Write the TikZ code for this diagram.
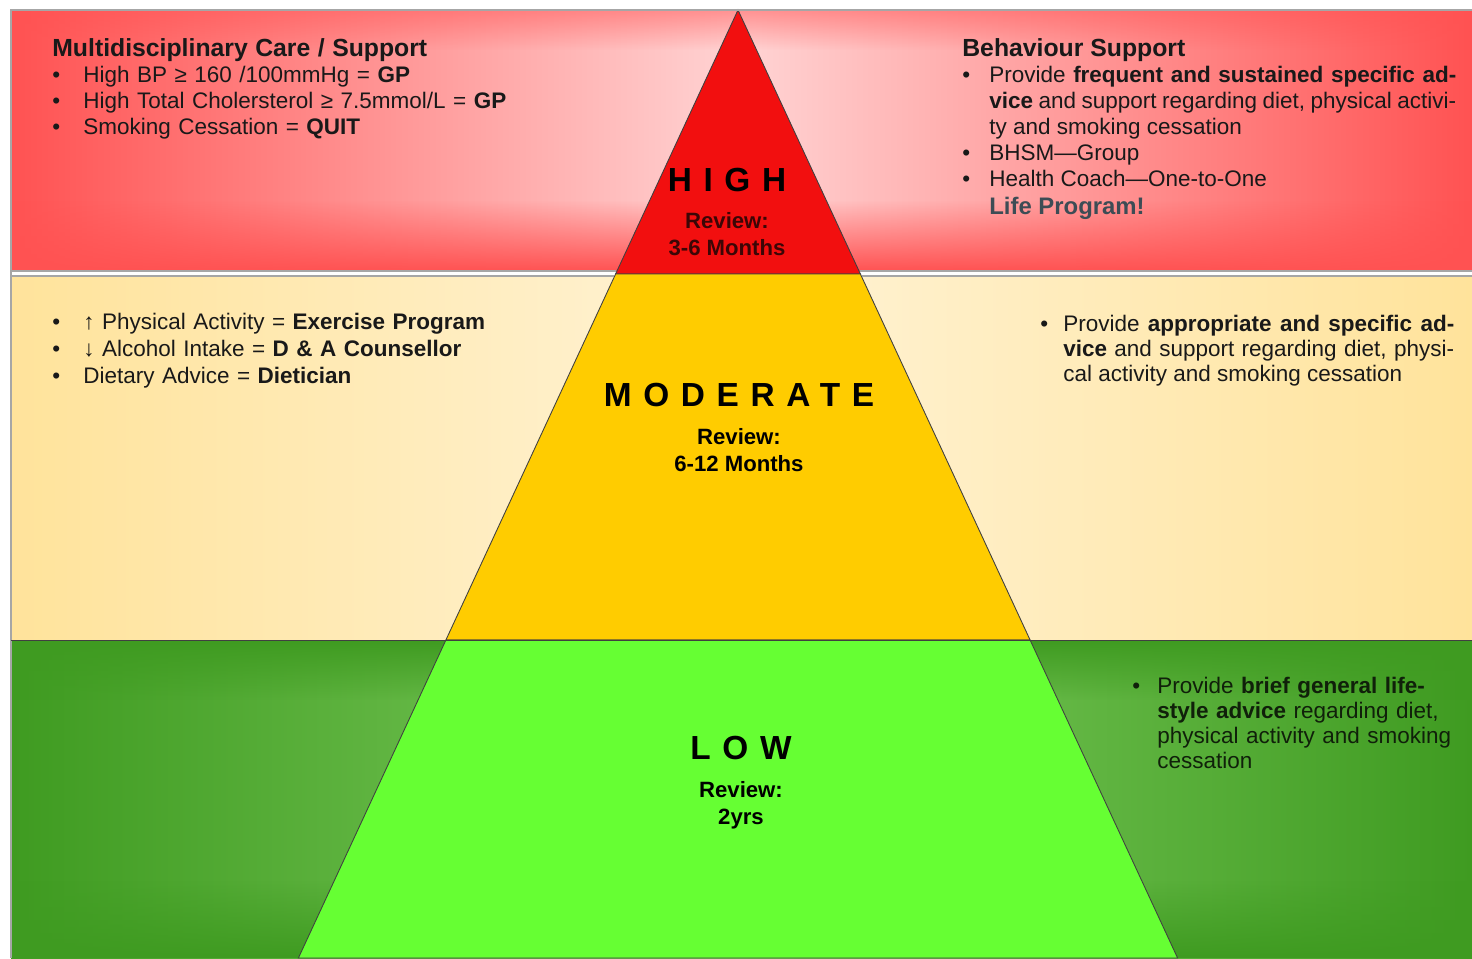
\documentclass[tikz,border=0pt]{standalone}
\usepackage{fontspec}
\setmainfont{Liberation Sans}
\newfontfamily\widefont[LetterSpace=35]{Liberation Sans}
\usetikzlibrary{positioning, fadings}
\definecolor{hiband}{HTML}{FF5252}
\definecolor{higlow}{HTML}{FFD4D4}
\definecolor{hitier}{HTML}{F20F0F}
\definecolor{hidark}{HTML}{3C0606}
\definecolor{modband}{HTML}{FFE39B}
\definecolor{modglow}{HTML}{FFF3D6}
\definecolor{modtier}{HTML}{FFCC00}
\definecolor{lowband}{HTML}{3F9B21}
\definecolor{lowglow}{HTML}{7ECC5E}
\definecolor{lowtier}{HTML}{66FF33}
\definecolor{lowtext}{HTML}{10200A}
\definecolor{slate}{HTML}{3D4C55}
% bullet with a hanging indent; items are separated by \par
\newcommand{\bitem}[1][6.2mm]{\noindent\hangindent=#1\hangafter=1\makebox[#1][l]{\textbullet}\ignorespaces}
\tikzset{
  edge/.style={draw=gray!70, line width=0.6pt},
  tier/.style={draw=black!75, line width=0.5pt},
  level/.style={font=\widefont\bfseries\fontsize{19}{22}\selectfont, inner sep=0pt},
  review/.style={font=\bfseries\fontsize{12.6}{15.3}\selectfont, align=center, inner sep=0pt},
  notes/.style={anchor=north west, inner sep=0pt, font=\fontsize{12.8}{14.8}\selectfont, align=justify, text=black!90},
}

\begin{document}
\begin{tikzpicture}[x=0.02cm, y=-0.02cm]
\fill[white] (0,0) rectangle (1472,958);
\useasboundingbox (0,0) rectangle (1472,958);

% colour bands behind the pyramid
\fill[left color=hiband, right color=hiband, middle color=higlow] (11,10) rectangle (1472,271);
\fill[hiband, path fading=north] (11,200) rectangle (1472,271);
\fill[hiband, path fading=south, fill opacity=0.5] (11,10) rectangle (1472,50);
\fill[left color=modband, right color=modband, middle color=modglow] (11,276) rectangle (1472,640);
\fill[left color=lowband, right color=lowband, middle color=lowglow] (11,640) rectangle (1472,958);
\fill[lowband, path fading=south] (11,640) rectangle (1472,700);
\fill[lowband, path fading=north] (11,880) rectangle (1472,958);

% pyramid tiers
\filldraw[tier, fill=hitier] (738,10) -- (860.4,274) -- (615.6,274) -- cycle;
\filldraw[tier, fill=modtier] (615.6,274) -- (860.4,274) -- (1030.1,640) -- (445.9,640) -- cycle;
\filldraw[tier, fill=lowtier] (445.9,640) -- (1030.1,640) -- (1177.6,958) -- (298.4,958) -- cycle;

% band borders
\draw[edge] (11,958) -- (11,10) -- (1472,10);
\draw[edge] (11,271) -- (615.6,271) (860.4,271) -- (1472,271);
\draw[edge] (11,276) -- (614,276) (862,276) -- (1472,276);
\draw[tier] (11,640) -- (1472,640);

% tier labels
\node[level] (high) at (727,180) {HIGH};
\node[review, text=hidark, below=4mm of high] (highrev) {Review:\\3-6 Months};
\node[level] (mod) at (739,395) {MODERATE};
\node[review, below=4.2mm of mod] (modrev) {Review:\\6-12 Months};
\node[level] (low) at (741,748) {LOW};
\node[review, below=4.2mm of low] (lowrev) {Review:\\2yrs};

% notes beside each tier
\node[notes, text width=10cm, align=left] (care) at (52,38) {{\bfseries\fontsize{14.1}{14.8}\selectfont Multidisciplinary Care / Support}\par
  \bitem High BP ≥ 160 /100mmHg = \textbf{GP}\par
  \bitem High Total Cholersterol ≥ 7.5mmol/L = \textbf{GP}\par
  \bitem Smoking Cessation = \textbf{QUIT}\par};
\node[notes, text width=9.88cm] (behav) at (962,38) {{\bfseries\fontsize{14.1}{14.8}\selectfont Behaviour Support}\par
  \bitem[5.4mm] Provide \textbf{frequent and sustained specific ad-\linebreak vice} and support regarding diet, physical activi-\linebreak ty and smoking cessation\par
  \bitem[5.4mm] BHSM—Group\par
  \bitem[5.4mm] Health Coach—One-to-One\par
  \noindent\hspace*{5.4mm}{\color{slate}\bfseries\fontsize{13.6}{15.9}\selectfont Life Program!\par}};
\node[notes, text width=10cm, align=left, font=\fontsize{12.8}{15.3}\selectfont] (move) at (52,313) {\bitem ↑ Physical Activity = \textbf{Exercise Program}\par
  \bitem ↓ Alcohol Intake = \textbf{D \& A Counsellor}\par
  \bitem Dietary Advice = \textbf{Dietician}\par};
\node[notes, text width=8.28cm, font=\fontsize{12.8}{14.2}\selectfont] (advice) at (1040,315) {\bitem[4.6mm] Provide \textbf{appropriate and specific ad-\linebreak vice} and support regarding diet, physi-\linebreak cal activity and smoking cessation\par};
\node[notes, text width=6.4cm, align=left, text=lowtext, font=\fontsize{12.8}{14.2}\selectfont] (brief) at (1132,677) {\bitem[5mm] Provide \textbf{brief general life-\newline style advice} regarding diet,\newline physical activity and smoking\newline cessation\par};
\end{tikzpicture}
\end{document}
